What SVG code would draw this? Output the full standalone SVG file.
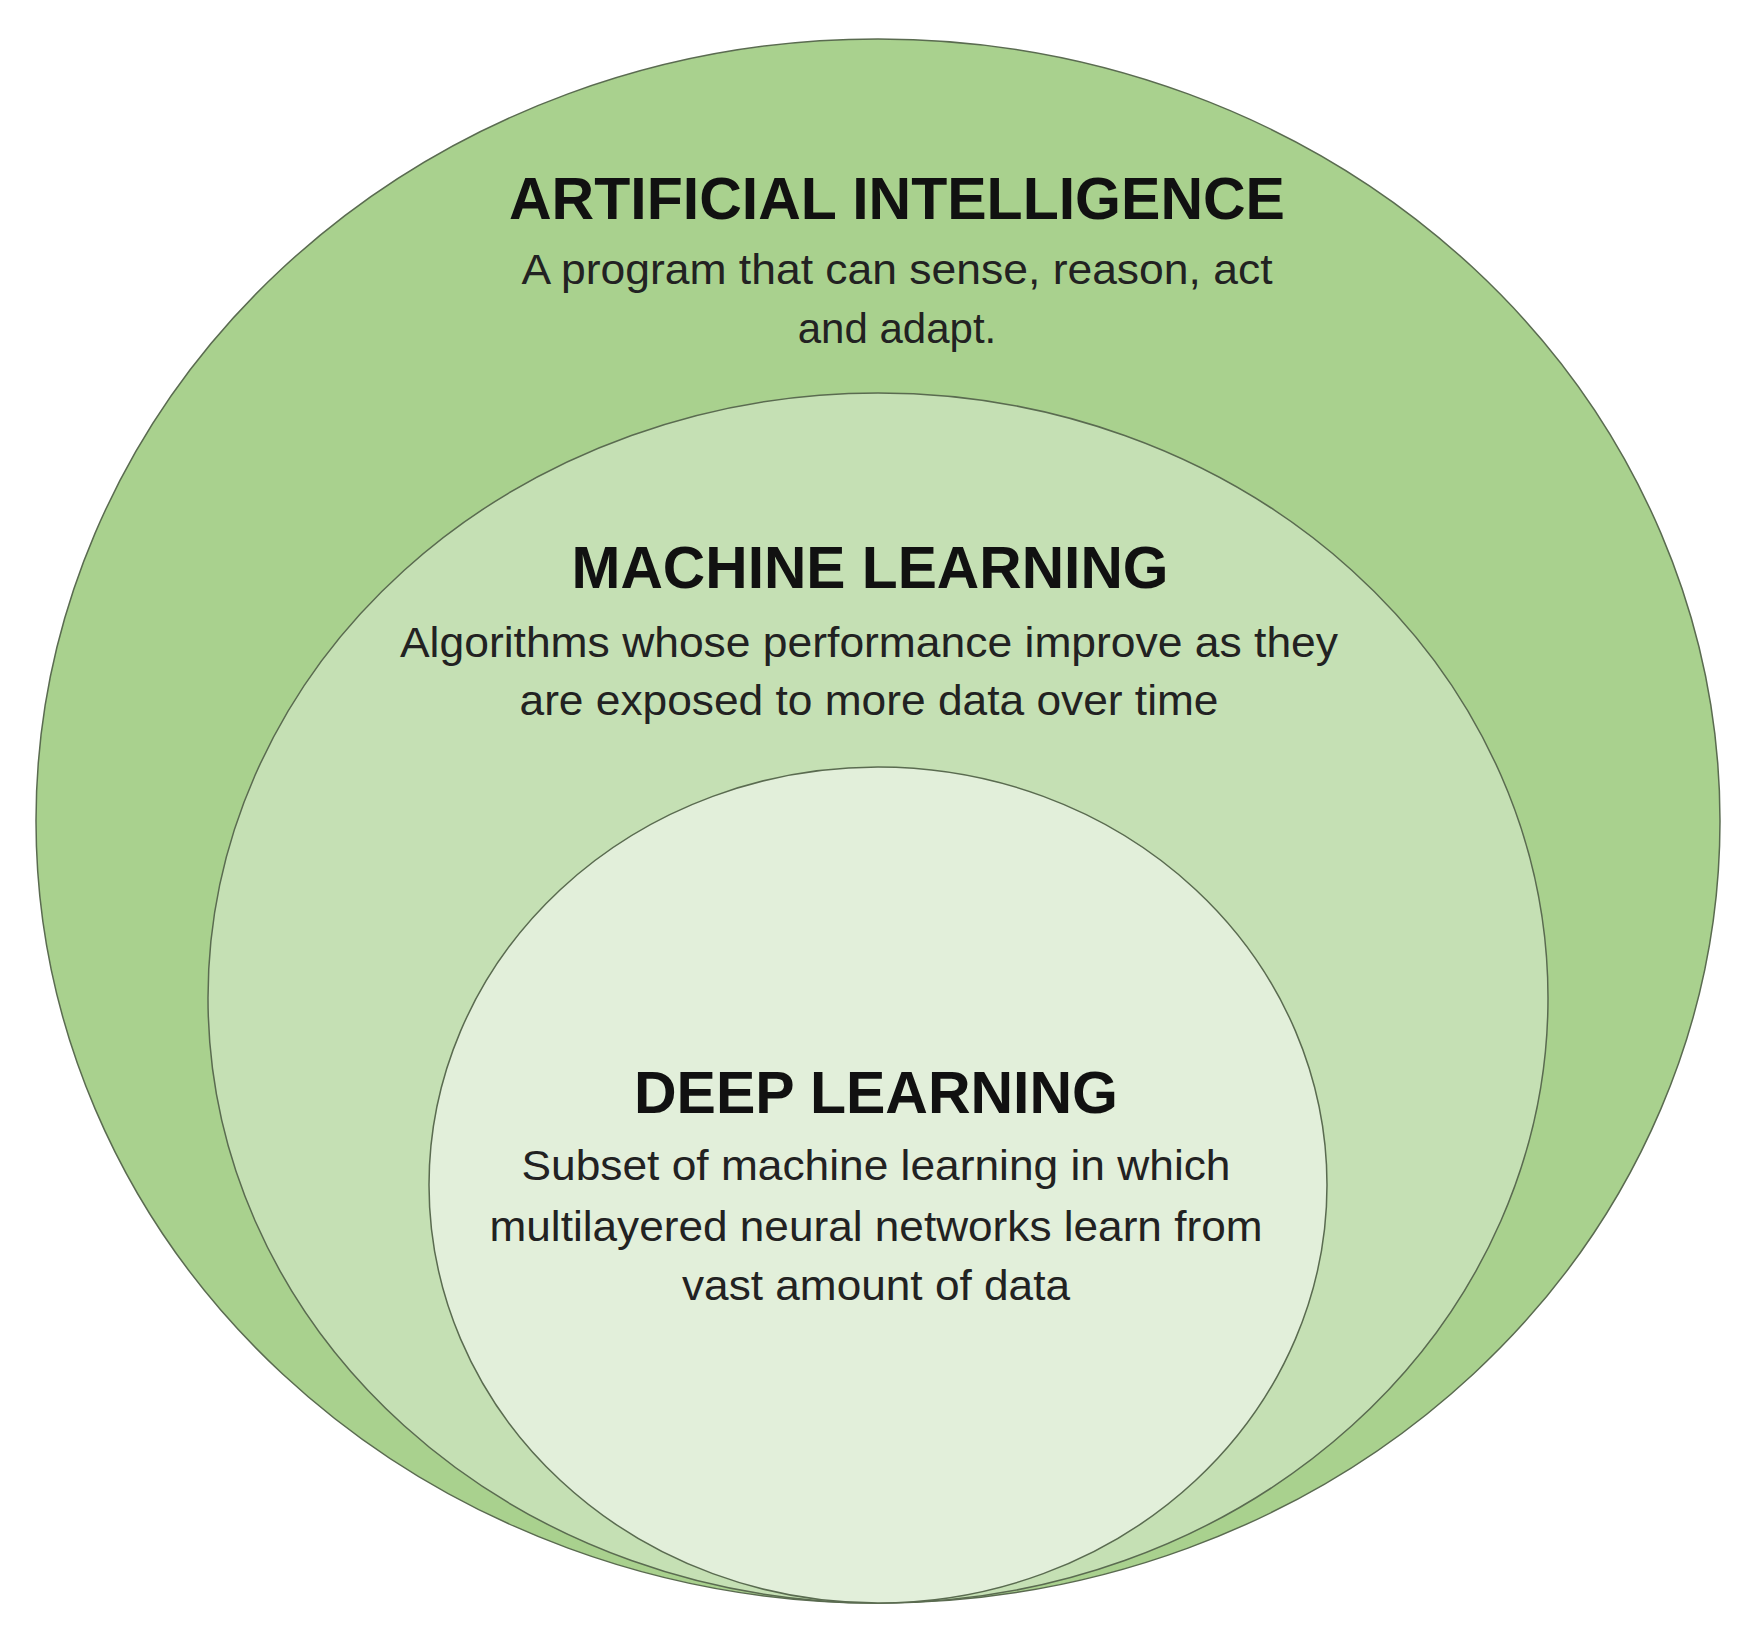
<svg xmlns="http://www.w3.org/2000/svg" width="1745" height="1635" viewBox="0 0 1745 1635">
<style>
.c{stroke:#5a6b50;stroke-width:1.5}
.t{font-family:"Liberation Sans",Arial,sans-serif;font-weight:bold;font-size:60px;fill:#111;text-anchor:middle}
.s{font-family:"Liberation Sans",Arial,sans-serif;font-size:42px;fill:#222;text-anchor:middle}
</style>
<rect width="1745" height="1635" fill="#fff"/>
<g id="ai"><ellipse class="c" cx="878" cy="821" rx="842" ry="782" fill="#a9d18e"/></g>
<g id="ml"><ellipse class="c" cx="878" cy="998" rx="670" ry="605" fill="#c5e0b4"/></g>
<g id="dl"><ellipse class="c" cx="878" cy="1185" rx="449" ry="418" fill="#e2efda"/></g>
<g id="labels">
<text class="t" x="897" y="219" textLength="776" lengthAdjust="spacingAndGlyphs">ARTIFICIAL INTELLIGENCE</text>
<text class="s" x="897" y="284" textLength="751" lengthAdjust="spacingAndGlyphs">A program that can sense, reason, act</text>
<text class="s" x="897" y="343">and adapt.</text>
<text class="t" x="870" y="588" textLength="597" lengthAdjust="spacingAndGlyphs">MACHINE LEARNING</text>
<text class="s" x="869" y="657" textLength="938" lengthAdjust="spacingAndGlyphs">Algorithms whose performance improve as they</text>
<text class="s" x="869" y="715" textLength="699" lengthAdjust="spacingAndGlyphs">are exposed to more data over time</text>
<text class="t" x="876" y="1113" textLength="484" lengthAdjust="spacingAndGlyphs">DEEP LEARNING</text>
<text class="s" x="876" y="1180" textLength="709" lengthAdjust="spacingAndGlyphs">Subset of machine learning in which</text>
<text class="s" x="876" y="1241" textLength="773" lengthAdjust="spacingAndGlyphs">multilayered neural networks learn from</text>
<text class="s" x="876" y="1300" textLength="388" lengthAdjust="spacingAndGlyphs">vast amount of data</text>
</g>
</svg>
